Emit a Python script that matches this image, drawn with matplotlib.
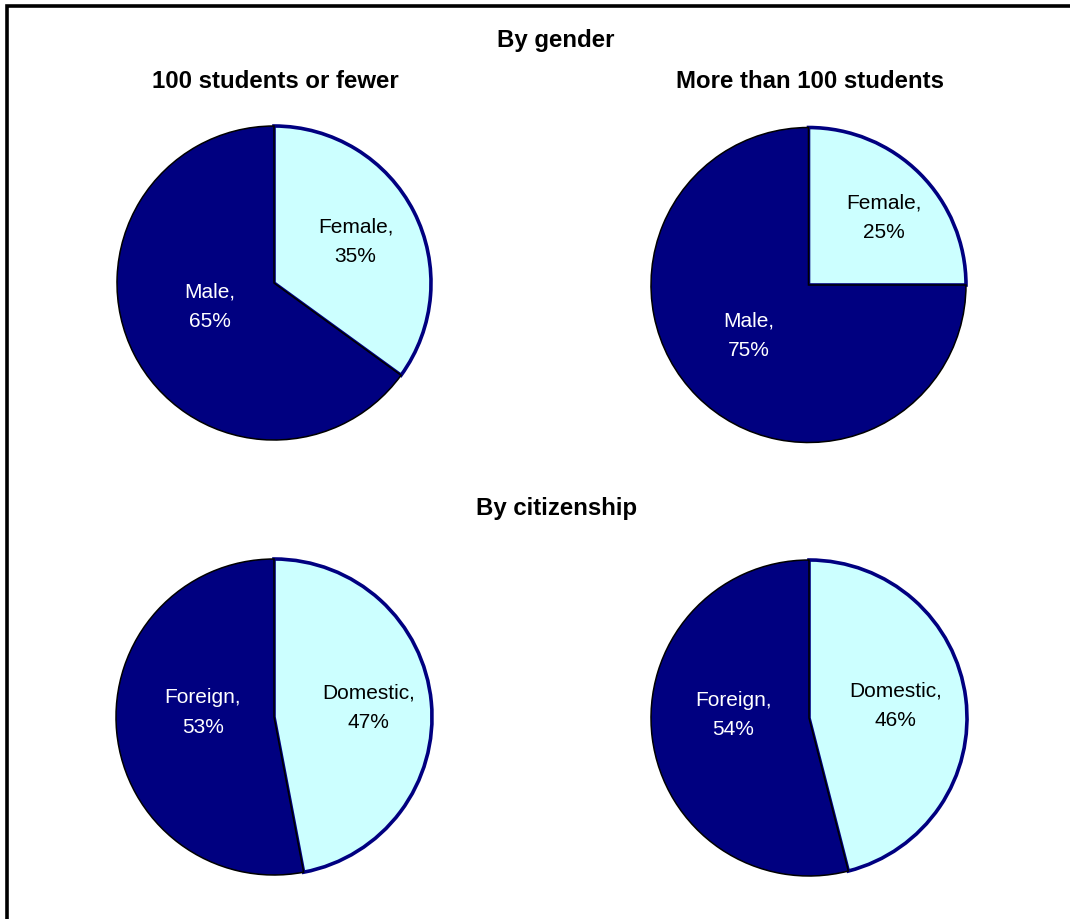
import matplotlib
matplotlib.use("Agg")
import matplotlib.pyplot as plt
from matplotlib.patches import Rectangle

plt.rcParams['font.family'] = ['Liberation Sans', 'DejaVu Sans']

# Data
gender_labels = ["Female", "Male"]
gender_small = [35, 65]      # 100 students or fewer
gender_large = [25, 75]      # More than 100 students
citizen_labels = ["Domestic", "Foreign"]
citizen_small = [47, 53]
citizen_large = [46, 54]

col_titles = ["100 students or fewer", "More than 100 students"]
section_titles = ["By gender", "By citizenship"]

LIGHT = "#CCFFFF"
NAVY = "#000080"

W, H = 1070, 919
fig = plt.figure(figsize=(W / 100, H / 100), dpi=100)
fig.patch.set_facecolor("white")


def px_axes(cx, cy, r):
    """Axes whose [-1, 1] box spans a circle of radius r px centred at (cx, cy) px."""
    ax = fig.add_axes([(cx - r) / W, 1 - (cy + r) / H, 2 * r / W, 2 * r / H])
    return ax


def draw_pie(cx, cy, r, labels, values, label_pos):
    ax = px_axes(cx, cy, r)
    wedges, _ = ax.pie(values, startangle=90, counterclock=False, radius=1.0,
                       colors=[LIGHT, NAVY])
    # first slice: light fill with navy outline; second: navy fill, black outline
    wedges[0].set_edgecolor(NAVY)
    wedges[0].set_linewidth(2.6)
    wedges[1].set_edgecolor("black")
    wedges[1].set_linewidth(1.1)
    for w in wedges:
        w.set_clip_on(False)
    for lab, val, (x, y), tc in zip(labels, values, label_pos, ["black", "white"]):
        ax.text(x, y, f"{lab},\n{val}%", ha="center", va="center",
                fontsize=15, color=tc, linespacing=1.7)
    ax.set_xlim(-1, 1)
    ax.set_ylim(-1, 1)
    ax.set_axis_off()
    return ax


draw_pie(274, 283, 157, gender_labels, gender_small,
         [(0.52, 0.26), (-0.41, -0.15)])
draw_pie(808.5, 285, 157.5, gender_labels, gender_large,
         [(0.48, 0.43), (-0.38, -0.32)])
draw_pie(274, 717, 158, citizen_labels, citizen_small,
         [(0.60, 0.06), (-0.45, 0.03)])
draw_pie(809, 718, 158, citizen_labels, citizen_large,
         [(0.55, 0.08), (-0.48, 0.02)])

# Titles
title_kw = dict(ha="center", va="center", fontsize=17.3, fontweight="bold")
fig.text(556 / W, 1 - 40 / H, section_titles[0], **title_kw)
fig.text(275 / W, 1 - 82 / H, col_titles[0], **title_kw)
fig.text(810 / W, 1 - 82 / H, col_titles[1], **title_kw)
fig.text(557 / W, 1 - 508 / H, section_titles[1], **title_kw)

# Outer frame
fig.patches.append(Rectangle((7 / W, -0.05), 1.1, 1 - 6 / H + 0.05,
                             transform=fig.transFigure, fill=False,
                             edgecolor="black", linewidth=2.6))

fig.savefig("out.png", dpi=100, facecolor="white")
